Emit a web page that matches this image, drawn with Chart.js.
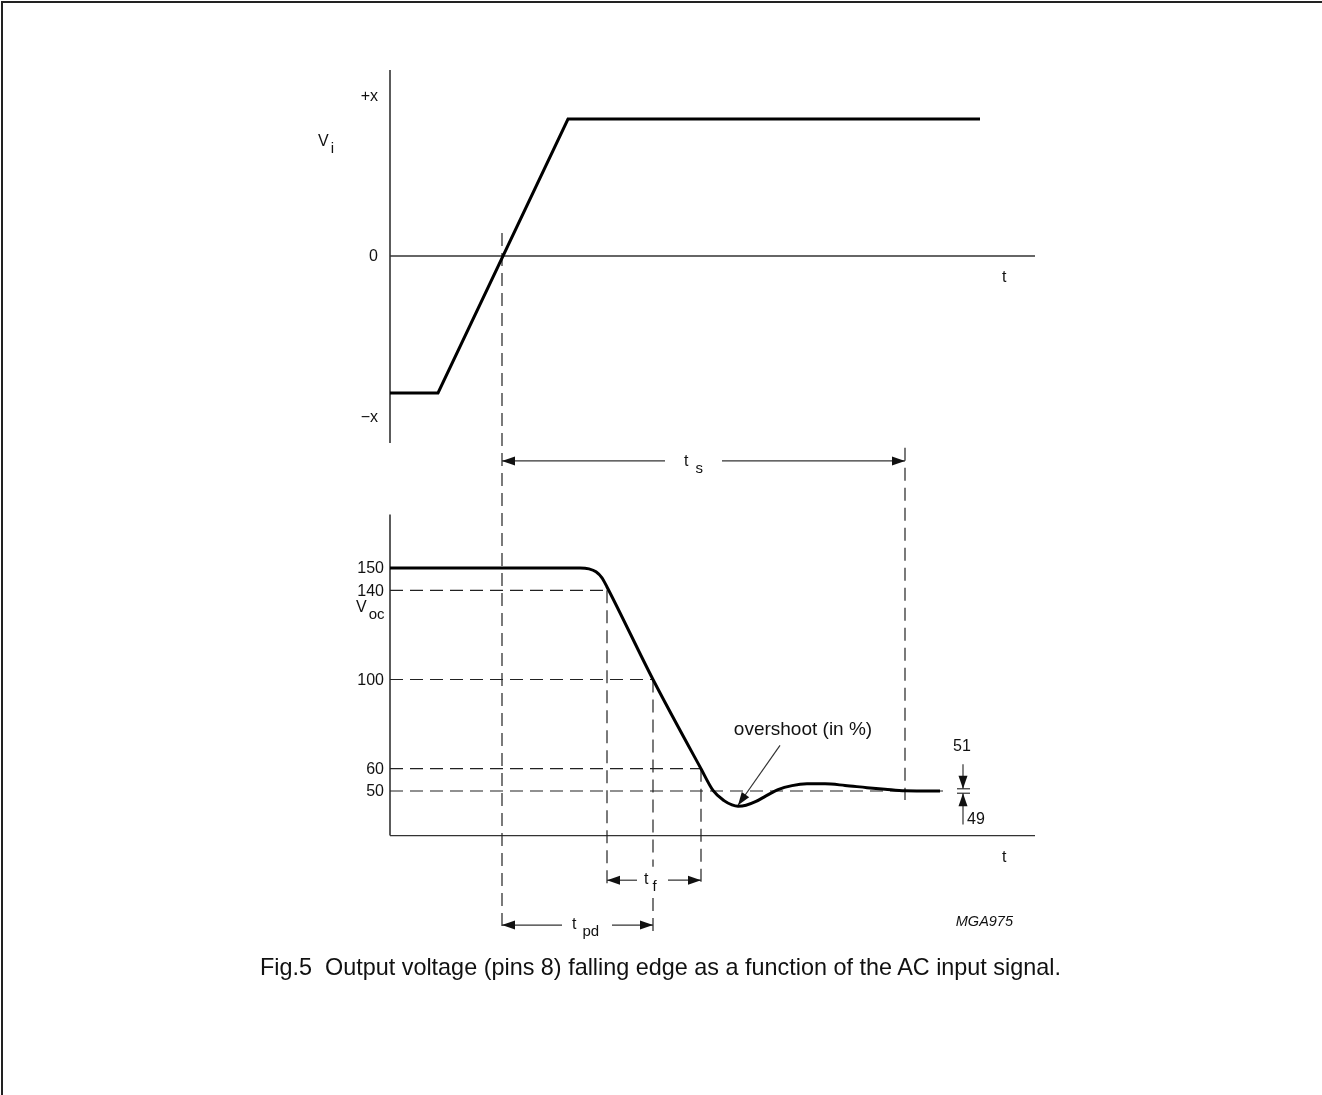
<!DOCTYPE html>
<html>
<head>
<meta charset="utf-8">
<script src="https://cdn.jsdelivr.net/npm/chart.js@4.4.1/dist/chart.umd.min.js"></script>
<style>
  html, body { margin: 0; padding: 0; background: #fff; }
  #wrap { position: relative; width: 1322px; height: 1095px; overflow: hidden; }
  #frame { position: absolute; left: 1px; top: 1px; width: 1340px; height: 1120px; border-left: 2px solid #222; border-top: 2px solid #222; }
  canvas { position: absolute; left: 0; top: 0; }
  #caption { position: absolute; left: 260px; top: 954px; font-family: "Liberation Sans", Arial, sans-serif; font-size: 23.4px; color: #111; white-space: pre; }
</style>
</head>
<body>
<div id="wrap">
  <div id="frame"></div>
  <canvas id="c" width="1322" height="1095"></canvas>
  <div id="caption">Fig.5  Output voltage (pins 8) falling edge as a function of the AC input signal.</div>
</div>
<script>
// ---- data (time in arbitrary units) ----
const viTime   = [0, 4.8, 17.8, 59.0];
const viValue  = [-1, -1, 1, 1];

const vocTime  = [0, 19.0, 19.9, 20.6, 21.2, 21.7, 26.3, 31.1, 32.3, 33.4, 34.2, 34.8, 35.6, 36.6, 37.6, 38.8, 40.2, 41.7, 43.5, 45.5, 47.7, 49.5, 51.5, 55.0];
const vocValue = [150, 150, 149.6, 148.3, 145.6, 141.5, 100, 60, 50.3, 45.7, 43.8, 43.2, 43.6, 45.3, 47.8, 50.6, 52.4, 53.2, 53.2, 52.5, 51.5, 50.8, 50.1, 50];

const viTickValues  = [1.17, 0, -1.17];
const viTickLabels  = ['+x', '0', '\u2212x'];
const vocTickValues = [150, 140, 100, 60, 50];
const vocTickLabels = ['150', '140', '100', '60', '50'];

// characteristic instants
const tCross  = 11.2;   // Vi crosses 0
const t140    = 21.7;
const t100    = 26.3;
const t60     = 31.1;
const tSettle = 51.5;

const FONT = '"Liberation Sans", Arial, sans-serif';

function arrowHead(ctx, x, y, dir) { // dir: 'l','r','u','d'
  const L = 13, W = 4.5;
  ctx.beginPath();
  if (dir === 'l') { ctx.moveTo(x, y); ctx.lineTo(x + L, y - W); ctx.lineTo(x + L, y + W); }
  if (dir === 'r') { ctx.moveTo(x, y); ctx.lineTo(x - L, y - W); ctx.lineTo(x - L, y + W); }
  if (dir === 'd') { ctx.moveTo(x, y); ctx.lineTo(x - W, y - L); ctx.lineTo(x + W, y - L); }
  if (dir === 'u') { ctx.moveTo(x, y); ctx.lineTo(x - W, y + L); ctx.lineTo(x + W, y + L); }
  ctx.closePath(); ctx.fill();
}
function line(ctx, x1, y1, x2, y2) { ctx.beginPath(); ctx.moveTo(x1, y1); ctx.lineTo(x2, y2); ctx.stroke(); }
function subText(ctx, main, sub, x, y, size, gap) {
  ctx.font = size + 'px ' + FONT;
  ctx.textBaseline = 'middle'; ctx.textAlign = 'left';
  ctx.fillText(main, x, y);
  const w = ctx.measureText(main).width;
  ctx.font = Math.round(size * 0.95) + 'px ' + FONT;
  ctx.fillText(sub, x + w + (gap === undefined ? 2 : gap), y + size * 0.45);
}

const diagramPlugin = {
  id: 'diagram',
  beforeDatasetsDraw(chart) {
    const ctx = chart.ctx, X = chart.scales.x, T = chart.scales.yTop, B = chart.scales.yBot;
    const px = v => X.getPixelForValue(v), pt = v => T.getPixelForValue(v), pb = v => B.getPixelForValue(v);
    ctx.save();
    // axes
    ctx.strokeStyle = '#333'; ctx.lineWidth = 1.6;
    line(ctx, px(0), pt(1.358), px(0), pt(-1.365));
    line(ctx, px(0), pb(174), px(0), pb(30));
    ctx.lineWidth = 1.3;
    line(ctx, px(0), pt(0), px(64.5), pt(0));
    line(ctx, px(0), pb(30), px(64.5), pb(30));

    // dashed reference lines
    ctx.strokeStyle = '#222'; ctx.lineWidth = 1.2; ctx.setLineDash([13, 7]);
    line(ctx, px(0), pb(140), px(t140), pb(140));
    line(ctx, px(0), pb(100), px(t100), pb(100));
    line(ctx, px(0), pb(60),  px(t60),  pb(60));
    line(ctx, px(0), pb(50),  px(55.8), pb(50));
    line(ctx, px(tCross), pt(0.168), px(tCross), pb(-13.2));
    line(ctx, px(t140), pb(140), px(t140), pb(6.5));
    line(ctx, px(t100), pb(100), px(t100), pb(16));
    line(ctx, px(t100), pb(2), px(t100), pb(-13.2));
    line(ctx, px(t60), pb(60), px(t60), pb(6.5));
    line(ctx, px(tSettle), pt(-1.40), px(tSettle), pb(46));
    ctx.setLineDash([]);

    // dimension arrows
    ctx.strokeStyle = '#333'; ctx.fillStyle = '#111'; ctx.lineWidth = 1.2;
    const yTs = pt(-1.496);
    line(ctx, px(tCross), yTs, px(27.5), yTs); line(ctx, px(33.2), yTs, px(tSettle), yTs);
    arrowHead(ctx, px(tCross), yTs, 'l'); arrowHead(ctx, px(tSettle), yTs, 'r');
    const yTf = pb(10.0);
    line(ctx, px(t140), yTf, px(24.7), yTf); line(ctx, px(27.8), yTf, px(t60), yTf);
    arrowHead(ctx, px(t140), yTf, 'l'); arrowHead(ctx, px(t60), yTf, 'r');
    const yTpd = pb(-10.1);
    line(ctx, px(tCross), yTpd, px(17.2), yTpd); line(ctx, px(22.2), yTpd, px(t100), yTpd);
    arrowHead(ctx, px(tCross), yTpd, 'l'); arrowHead(ctx, px(t100), yTpd, 'r');

    // 51 / 49 tolerance marks
    line(ctx, px(56.7), pb(51), px(58.0), pb(51));
    line(ctx, px(56.7), pb(49), px(58.0), pb(49));
    line(ctx, px(57.3), pb(62), px(57.3), pb(51)); arrowHead(ctx, px(57.3), pb(51), 'd');
    line(ctx, px(57.3), pb(35), px(57.3), pb(49)); arrowHead(ctx, px(57.3), pb(49), 'u');

    // overshoot pointer
    const ax1 = px(39.0), ay1 = pb(70.5), ax2 = px(34.8), ay2 = pb(43.6);
    line(ctx, ax1, ay1, ax2, ay2);
    ctx.save(); ctx.translate(ax2, ay2); ctx.rotate(Math.atan2(ay2 - ay1, ax2 - ax1) - Math.PI / 2);
    arrowHead(ctx, 0, 0, 'd'); ctx.restore();

    // tick labels
    ctx.fillStyle = '#111'; ctx.font = '16px ' + FONT; ctx.textAlign = 'right'; ctx.textBaseline = 'middle';
    viTickValues.forEach((v, i) => ctx.fillText(viTickLabels[i], px(0) - 12, pt(v) + 1));
    vocTickValues.forEach((v, i) => ctx.fillText(vocTickLabels[i], px(0) - 6, pb(v) + 1));

    // axis names and labels
    subText(ctx, 'V', 'i', 318, 142, 16);
    subText(ctx, 'V', 'oc', 356, 608, 16);
    ctx.font = '16px ' + FONT; ctx.textAlign = 'left';
    ctx.fillText('t', 1002, 278);
    ctx.fillText('t', 1002, 858);
    subText(ctx, 't', 's', 684, 462, 16, 7);
    subText(ctx, 't', 'f', 644, 880, 16, 4);
    subText(ctx, 't', 'pd', 572, 925, 16, 6);
    ctx.font = '19px ' + FONT; ctx.textAlign = 'center';
    ctx.fillText('overshoot (in %)', 803, 730);
    ctx.font = '16px ' + FONT;
    ctx.fillText('51', 962, 747);
    ctx.textAlign = 'left';
    ctx.fillText('49', 967, 820);
    ctx.font = 'italic 14.5px ' + FONT; ctx.textAlign = 'right';
    ctx.fillText('MGA975', 1013, 922);
    ctx.restore();
  }
};

const toPts = (ts, vs) => ts.map((t, i) => ({ x: t, y: vs[i] }));

new Chart(document.getElementById('c'), {
  type: 'scatter',
  data: {
    datasets: [
      { label: 'Vi', data: toPts(viTime, viValue), yAxisID: 'yTop', showLine: true, borderColor: '#000', borderWidth: 3, pointRadius: 0, tension: 0 },
      { label: 'Voc', data: toPts(vocTime, vocValue), yAxisID: 'yBot', showLine: true, borderColor: '#000', borderWidth: 3, pointRadius: 0, cubicInterpolationMode: 'monotone' }
    ]
  },
  options: {
    responsive: false, animation: false,
    layout: { padding: { left: 390, right: 287, top: 70, bottom: 160 } },
    plugins: { legend: { display: false }, tooltip: { enabled: false } },
    scales: {
      x:    { type: 'linear', display: false, min: 0, max: 64.5 },
      yTop: { type: 'linear', display: false, min: -4.956, max: 1.3577 },
      yBot: { type: 'linear', display: false, min: -14.57, max: 373.3 }
    }
  },
  plugins: [diagramPlugin]
});
</script>
</body>
</html>
